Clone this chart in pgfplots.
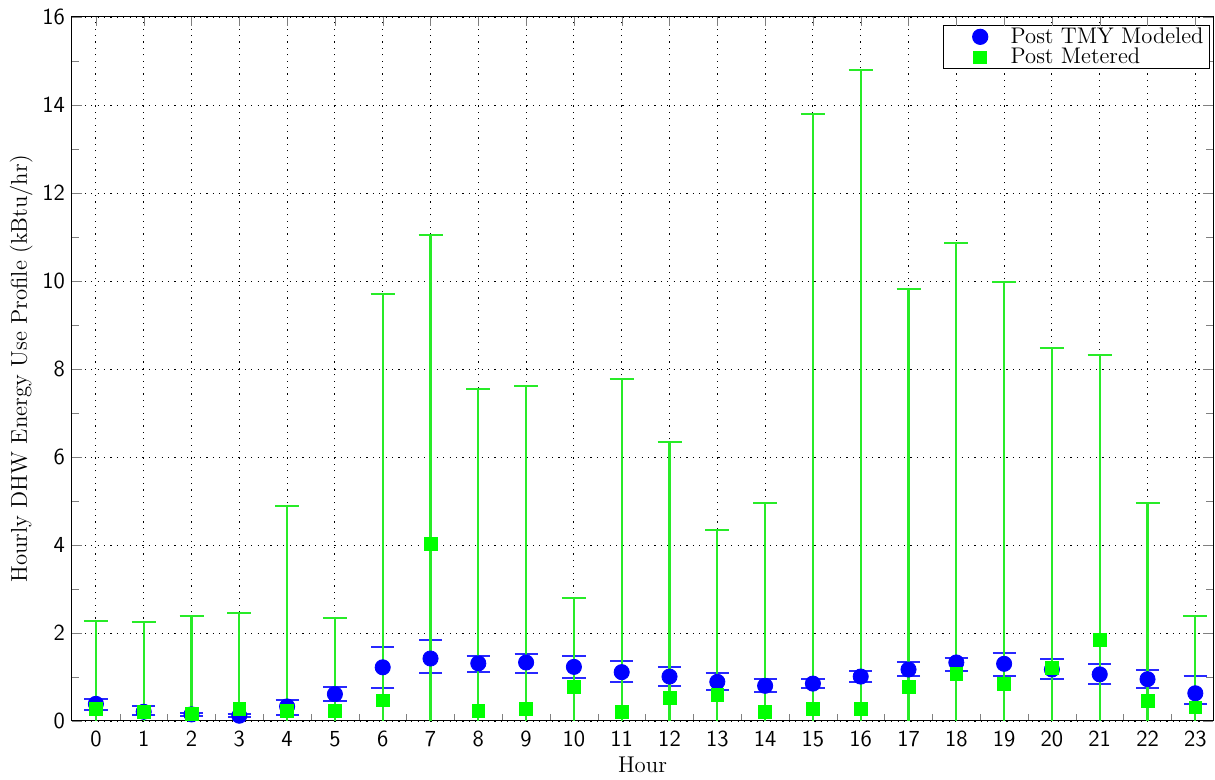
\documentclass[border=0pt]{standalone}
\usepackage{pgfplots}
\pgfplotsset{compat=1.18}
\usepackage{pgfplotstable}
\definecolor{mblue}{RGB}{0,0,255}
\definecolor{mbluebar}{RGB}{40,40,255}
\definecolor{mgreen}{RGB}{0,255,0}
\definecolor{mgreenbar}{RGB}{40,235,40}

\pgfplotstableread{
x y ep em
0 0.39 0.11 0.14
1 0.21 0.12 0.07
2 0.15 0.03 0.03
3 0.12 0.03 0.02
4 0.33 0.14 0.19
5 0.61 0.16 0.15
6 1.22 0.47 0.46
7 1.42 0.41 0.33
8 1.31 0.17 0.20
9 1.33 0.20 0.25
10 1.23 0.25 0.25
11 1.11 0.25 0.22
12 1.01 0.21 0.21
13 0.89 0.20 0.19
14 0.80 0.15 0.15
15 0.85 0.10 0.09
16 1.01 0.13 0.12
17 1.17 0.16 0.14
18 1.33 0.11 0.19
19 1.30 0.25 0.27
20 1.17 0.24 0.22
21 1.06 0.23 0.21
22 0.95 0.20 0.19
23 0.63 0.39 0.25
}\modeled

\pgfplotstableread{
x y ep em
0 0.28 1.99 0.28
1 0.21 2.04 0.21
2 0.16 2.22 0.16
3 0.27 2.19 0.27
4 0.23 4.65 0.23
5 0.23 2.10 0.23
6 0.47 9.23 0.47
7 4.02 7.03 4.02
8 0.23 7.32 0.23
9 0.27 7.35 0.27
10 0.78 2.01 0.78
11 0.20 7.58 0.20
12 0.52 5.82 0.52
13 0.59 3.74 0.59
14 0.21 4.74 0.21
15 0.27 13.53 0.27
16 0.27 14.53 0.27
17 0.77 9.05 0.77
18 1.07 9.80 1.07
19 0.85 9.13 0.85
20 1.20 7.28 1.20
21 1.84 6.47 1.84
22 0.45 4.50 0.45
23 0.31 2.08 0.31
}\metered

\begin{document}
\begin{tikzpicture}
\useasboundingbox (-36pt,-29.5pt) rectangle (571.5pt,360.5pt);
\begin{axis}[
  scale only axis,
  width=570.5pt, height=352pt,
  at={(0pt,0pt)}, anchor=south west,
  xmin=-0.5, xmax=23.37,
  ymin=0, ymax=16,
  xtick={0,...,23},
  xticklabels={0,1,2,3,4,5,6,7,8,9,10,11,12,13,14,15,16,17,18,19,20,21,22,23},
  xtick pos=left,
  minor xtick={0.5,1.5,...,22.5},
  major x tick style={draw=none},
  ytick={0,2,...,16},
  minor ytick={1,3,...,15},
  major tick length=5pt,
  minor tick length=3.5pt,
  xmajorgrids, ymajorgrids,
  major grid style={black, dash pattern=on 0.6pt off 2.6pt, line width=0.45pt},
  tick label style={font=\fontsize{11.5}{13}\selectfont\sffamily},
  xticklabel style={yshift=-1.5pt},
  /pgf/number format/assume math mode=true,
  label style={font=\fontsize{11.4}{13}\selectfont},
  xlabel={Hour},
  ylabel={Hourly DHW Energy Use Profile (kBtu/hr)},
  xlabel style={yshift=2pt},
  ylabel style={yshift=-2pt},
  axis line style={line width=0.5pt},
  legend style={at={(axis description cs:1,1)}, anchor=north east,
    xshift=-1.5pt, yshift=-4pt, draw=black, line width=0.5pt,
    font=\fontsize{11.3}{11.3}\selectfont, inner xsep=1pt, inner ysep=0.5pt,
    row sep=0pt, nodes={inner ysep=0.5pt}},
  legend cell align=left,
  legend image code/.code={\path (0pt,0pt) (30pt,0pt); \draw[#1] plot coordinates {(17pt,0pt)};},
]
\addplot[only marks, mark=*, mark size=3.8pt, color=mblue,
  mark options={fill=mblue, draw=mblue},
  error bars/.cd, y dir=both, y explicit,
  error bar style={mbluebar, line width=1pt},
  error mark options={mbluebar, line width=1pt, mark size=5.8pt, rotate=90}]
  table[x=x, y=y, y error plus=ep, y error minus=em] {\modeled};
\addlegendentry{Post TMY Modeled}
\addplot[forget plot, only marks, mark=none,
  error bars/.cd, y dir=minus, y explicit, error mark=none,
  error bar style={mgreenbar, line width=1.05pt}]
  table[x=x, y=y, y error plus=ep, y error minus=em] {\metered};
\addplot[only marks, mark=square*, mark size=3.2pt, color=mgreen,
  mark options={fill=mgreen, draw=mgreen},
  error bars/.cd, y dir=plus, y explicit,
  error bar style={mgreenbar, line width=1.05pt},
  error mark options={mgreenbar, line width=1pt, mark size=6pt, rotate=90}]
  table[x=x, y=y, y error plus=ep, y error minus=em] {\metered};
\addlegendentry{Post Metered}
\end{axis}
\begin{axis}[
  scale only axis,
  width=570.5pt, height=352pt,
  at={(0pt,0pt)}, anchor=south west,
  xmin=-0.5, xmax=23.37,
  ymin=0, ymax=16,
  xtick={0,...,23}, xticklabels={},
  xtick pos=right,
  ytick=\empty,
  major tick length=4.5pt,
  axis line style={draw=none},
]
\end{axis}
\end{tikzpicture}
\end{document}
